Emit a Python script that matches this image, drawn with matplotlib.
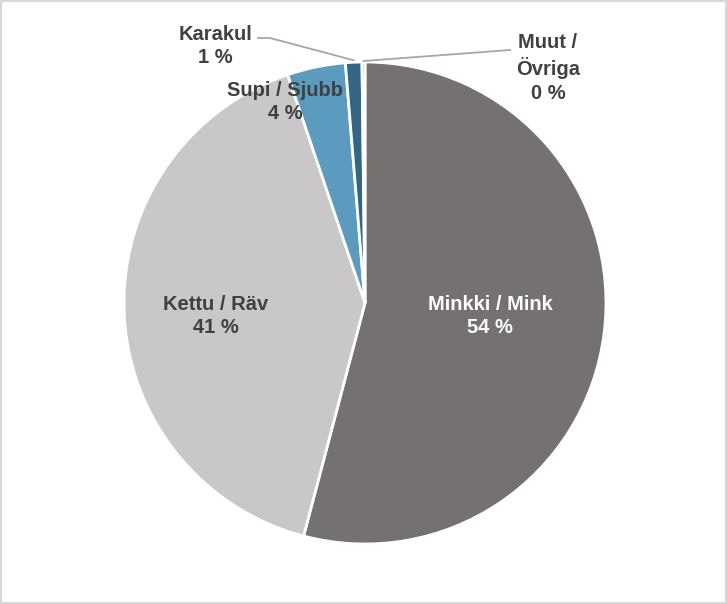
import numpy as np
import matplotlib.pyplot as plt
from matplotlib.patches import Rectangle

# osuudet / andelar (%), clockwise from 12 o'clock
labels = ["Minkki / Mink", "Kettu / Räv", "Supi / Sjubb", "Karakul", "Muut /\nÖvriga"]
values = [54.1, 40.7, 3.9, 1.1, 0.2]
shown = ["54 %", "41 %", "4 %", "1 %", "0 %"]
colors = ["#767171", "#C9C7C7", "#5B9BC0", "#336685", "#1F3F5C"]

plt.rcParams["font.family"] = ["Liberation Sans", "DejaVu Sans"]

W, H = 727, 604
fig = plt.figure(figsize=(W / 100, H / 100), dpi=100)
ax = fig.add_axes([0, 0, 1, 1])

cx, cy, r = 365, H - 303, 241
wedges, _ = ax.pie(values, colors=colors, startangle=90, counterclock=False,
                   center=(cx, cy), radius=r, frame=True,
                   wedgeprops=dict(edgecolor="white", linewidth=2))
ax.set_xlim(0, W)
ax.set_ylim(0, H)
ax.set_aspect("equal")
ax.axis("off")

txt = "#404040"
fs = 14.5
ls = 1.3

def edge_point(w):
    a = np.deg2rad((w.theta1 + w.theta2) / 2)
    return cx + r * np.cos(a), cy + r * np.sin(a)

# inside labels
ax.text(490, H - 316, f"{labels[0]}\n{shown[0]}", color="white", fontsize=fs,
        fontweight="bold", ha="center", va="center", linespacing=ls)
ax.text(216, H - 316, f"{labels[1]}\n{shown[1]}", color=txt, fontsize=fs,
        fontweight="bold", ha="center", va="center", linespacing=ls)
ax.text(285, H - 102, f"{labels[2]}\n{shown[2]}", color=txt, fontsize=fs,
        fontweight="bold", ha="center", va="center", linespacing=ls)

# outside labels with leader lines
ax.text(215, H - 46, f"{labels[3]}\n{shown[3]}", color=txt, fontsize=fs,
        fontweight="bold", ha="center", va="center", linespacing=ls)
ex, ey = edge_point(wedges[3])
ax.plot([258, 270, ex], [H - 38, H - 38, ey + 2], color="#A6A6A6", lw=1.3)

ax.text(548, H - 68, f"{labels[4]}\n{shown[4]}", color=txt, fontsize=fs,
        fontweight="bold", ha="center", va="center", linespacing=ls)
ex, ey = edge_point(wedges[4])
ax.plot([ex, 510], [ey + 1, H - 50], color="#A6A6A6", lw=1.3)

fig.patches.append(Rectangle((0, 0), 1, 1, transform=fig.transFigure,
                             fill=False, edgecolor="#D9D9D9", linewidth=3))

fig.savefig("out.png", dpi=100)
